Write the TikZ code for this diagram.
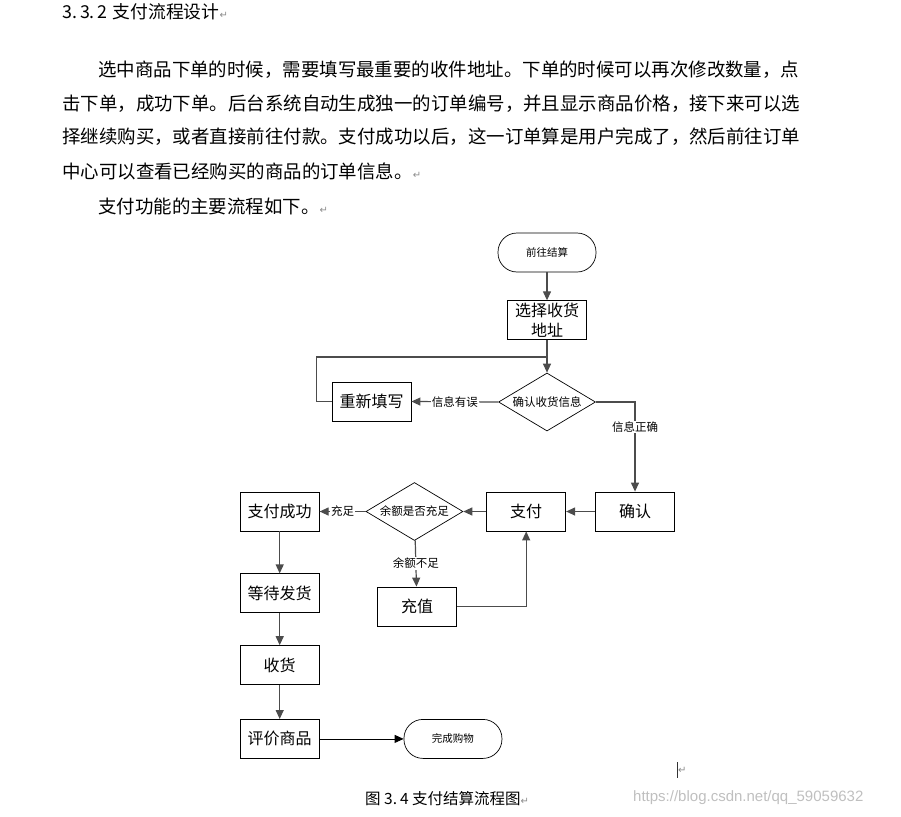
\documentclass[tikz,border=0pt]{standalone}
\usepackage{fontspec}
\setmainfont{Noto Sans CJK SC}
\newfontfamily\markfont{DejaVu Sans}
\newfontfamily\urlfont{Liberation Sans}
\usetikzlibrary{positioning, arrows.meta, shapes.geometric}

\newcommand{\parmark}{{\markfont\fontsize{10}{10}\selectfont\color{black!45}↵}}

\tikzset{
  procbox/.style={draw, line width=0.8pt, minimum width=79pt, minimum height=39pt,
    inner sep=1pt, align=center, font=\fontsize{16}{20}\selectfont},
  decide/.style={draw, diamond, line width=0.7pt, aspect=1.67, minimum width=97pt,
    minimum height=58pt, inner sep=0pt, font=\fontsize{11.5}{12}\selectfont},
  terminal/.style={draw, line width=0.7pt, rounded corners=19pt, minimum width=98pt,
    minimum height=39pt, font=\fontsize{10.5}{11}\selectfont},
  flow/.style={draw=black!70, line width=1.2pt, -{Triangle[length=9pt, width=8pt]}},
  lbl/.style={fill=white, inner sep=1pt, font=\fontsize{11.5}{12}\selectfont},
  bodyline/.style={anchor=west, inner sep=0pt, font=\fontsize{18.45}{19}\selectfont}
}

\begin{document}
\begin{tikzpicture}[x=1pt, y=-1pt, node distance=32pt]
\useasboundingbox (0,0) rectangle (901,816);

% text of the page
\node[anchor=west, inner sep=0pt, font=\fontsize{17.8}{18}\selectfont] (title) at (62,12)
  {3.\kern3pt3.\kern3pt2\kern5pt 支付流程设计\parmark};
\node[bodyline] (line1) at (98,70)
  {选中商品下单的时候，需要填写最重要的收件地址。下单的时候可以再次修改数量，点};
\node[bodyline] (line2) at (62,104)
  {击下单，成功下单。后台系统自动生成独一的订单编号，并且显示商品价格，接下来可以选};
\node[bodyline] (line3) at (62,137)
  {择继续购买，或者直接前往付款。支付成功以后，这一订单算是用户完成了，然后前往订单};
\node[bodyline] (line4) at (62,171)
  {中心可以查看已经购买的商品的订单信息。\parmark};
\node[bodyline] (line5) at (98,206) {支付功能的主要流程如下。\parmark};

% flow chart
\node[terminal] (start) at (547,252.5) {前往结算};
\node[procbox, below=28pt of start] (addr) {选择收货\\地址};
\node[decide] (chk) at (547,402) {确认收货信息};
\node[procbox] (redo) at (371.5,401.5) {重新填写};
\coordinate (merge) at (547,357);

\node[procbox] (ok) at (635,511.5) {确认};
\node[procbox, left=29pt of ok] (pay) {支付};
\node[decide, left=23pt of pay] (bal) {余额是否充足};
\node[procbox, left=46pt of bal] (done) {支付成功};
\node[procbox] (topup) at (417,606.5) {充值};

\node[procbox, below=42pt of done] (wait) {等待发货};
\node[procbox, below=32pt of wait] (recv) {收货};
\node[procbox, below=34pt of recv] (rate) {评价商品};
\node[terminal, right=84pt of rate] (finish) {完成购物};

\draw[flow] (start) -- (addr);
\draw[flow] (addr) -- (chk);
\draw[draw=black!70, line width=1.2pt] (redo.west) -- ++(-15,0) |- (merge);
\draw[flow] (chk.west) -- node[lbl] {信息有误} (redo.east);
\draw[flow] (chk.east) -| node[lbl, pos=0.64] {信息正确} (ok.north);
\draw[flow] (ok) -- (pay);
\draw[flow] (pay) -- (bal);
\draw[flow] (bal) -- node[lbl] {充足} (done);
\draw[flow] (bal) -- node[lbl] {余额不足} (topup);
\draw[flow] (topup.east) -| (pay.south);
\draw[flow] (done) -- (wait);
\draw[flow] (wait) -- (recv);
\draw[flow] (recv) -- (rate);
\draw[flow, draw=black, line width=0.8pt] (rate) -- (finish);

% caption and marks
\node[anchor=west, inner sep=0pt] (endmark) at (678,770) {\parmark};
\draw[black!80, line width=0.8pt] (677,762) -- (677,778);
\node[anchor=west, inner sep=0pt, font=\fontsize{15.5}{16}\selectfont] (caption) at (365,799)
  {图 3.\kern3pt4 支付结算流程图\parmark};
\node[anchor=west, inner sep=0pt, text=black!25, font=\urlfont\fontsize{15}{15}\selectfont]
  (wm) at (633,798) {https://blog.csdn.net/qq\_59059632};
\end{tikzpicture}
\end{document}
